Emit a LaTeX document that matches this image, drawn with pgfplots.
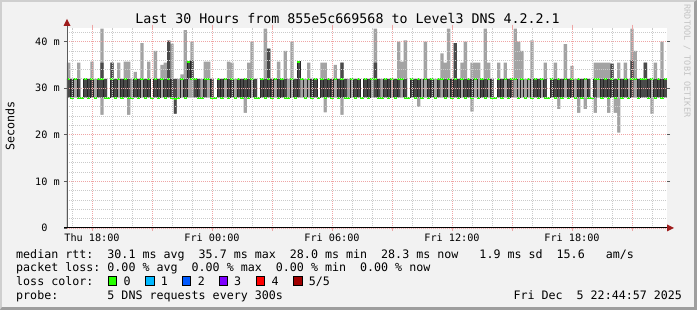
\documentclass[border=0pt]{standalone}
\usepackage{fontspec}
\setmainfont{DejaVu Sans Mono}
\usepackage{pgfplots}
\pgfplotsset{compat=1.18}
\usepackage{pgfplotstable}
\definecolor{bgc}{HTML}{F2F2F2}
\definecolor{shadeA}{HTML}{CFCFCF}
\definecolor{shadeB}{HTML}{9E9E9E}
\definecolor{mingrid}{HTML}{CACACA}
\definecolor{majgrid}{HTML}{EFA5A5}
\definecolor{smokeL}{HTML}{A3A3A3}
\definecolor{smokeD}{HTML}{4A4A4A}
\definecolor{arrowred}{HTML}{9E1B1B}
\definecolor{yaxisc}{HTML}{5A5A5A}
\definecolor{wm}{HTML}{C4C4C4}
\definecolor{loss0}{HTML}{26FF00}
\definecolor{loss1}{HTML}{00B8FF}
\definecolor{loss2}{HTML}{0059FF}
\definecolor{loss3}{HTML}{7E00FF}
\definecolor{loss4}{HTML}{FF0000}
\definecolor{loss5}{HTML}{A00000}
\newcommand\lfont{\fontsize{11.66}{14}\selectfont}
\newcommand\tfont{\fontsize{10.2}{12}\selectfont}

\pgfplotstableread{
a b c e m
28 28 32 35.5 32
28 28 32 32 28
28 32 32 32 32
28 28 32 35.5 28
28 28 28 28 28
28 28 32 32 32
28 28 32 32 28
28 28 32 35.7 32
28 28 28 32 28
28 28 32 32 32
24.3 28 35.5 42.8 32
28 28 32 32 28
28 28 28 28 28
28 28 35.5 35.5 32
28 28 32 32 28
28 32 32 35.5 32
28 28 32 32 28
28 28 32 35.7 32
24.3 28 32 35.7 28
28 28 28 32 28
28 28 32 33.5 32
28 28 32 32 28
28 32 32 39.7 32
28 28 32 32 28
28 28 32 35.7 32
28 28 28 28 28
28 28 32 38 32
28 28 32 32 28
28 32 32 35 32
28 28 32 35.5 28
28 28 40.2 40.2 32
28 28 32 39.6 28
24.5 24.5 32 32 27.8
28 28 28 32 28
28 32 32 33 32
28 28 32 42.5 28
28 32 35.7 35.7 35.7
28 32 36 40 32
28 28 32 32 32
28 28 32 32 28
28 28 28 32 28
28 28 32 35.7 32
28 32 32 35.7 32
28 28 32 32 28
28 28 28 28 28
28 28 32 32 32
28 28 32 32 28
28 32 32 32 32
28 28 32 35.7 28
28 28 32 35.5 32
28 28 28 32 28
28 28 32 32 32
28 28 32 32 28
24.7 28 32 32 32
28 28 32 35.5 28
28 32 32 40 32
28 28 32 32 28
28 28 28 28 28
28 28 32 32 32
28 28 32 42.8 28
28 28 38.5 38.5 32
28 28 32 32 28
28 32 32 32 32
28 28 32 35.7 28
28 28 32 32 32
28 28 32 38 28
28 28 28 32 28
28 32 32 40 32
28 28 32 32 28
28 28 35.7 35.7 35.7
28 32 32 32 32
28 28 28 32 28
28 32 32 35.5 32
28 28 32 32 28
28 28 32 32 32
28 28 28 28 28
28 28 32 35.5 32
24.8 28 32 35.5 28
28 28 32 32 32
28 28 32 32 28
28 32 32 35 32
28 28 32 32 28
24.3 28 35.5 35.5 32
28 28 32 32 28
28 28 28 32 28
28 32 32 32 32
28 28 32 32 28
28 28 32 32 32
28 28 28 28 28
28 28 32 32 32
28 28 32 32 28
28 32 32 32 32
28 28 35.5 42.8 32
28 28 32 32 28
28 28 28 32 28
28 28 32 32 32
28 28 32 32 28
28 32 32 32 32
28 28 32 32 28
28 28 32 40 32
28 32 32 35.7 32
28 28 32 40.3 28
28 28 28 28 28
28 28 32 32 32
28 28 32 32 28
26 28 32 32 32
28 28 28 32 28
28 32 32 40 32
28 28 32 32 28
28 28 32 32 32
28 28 28 32 28
28 28 32 32 32
28 32 32 37.5 32
28 28 32 35.5 28
28 32 32 42.8 32
28 28 32 32 28
28 28 39.7 39.7 32
28 28 32 32 28
28 32 32 35.5 32
28 28 32 40 28
28 28 32 32 32
25 28 32 35.5 28
28 32 32 35.5 32
28 28 28 35.5 28
28 28 32 32 32
28 28 32 42.8 28
28 32 32 35.5 32
28 28 32 32 28
28 28 28 28 28
28 28 32 35.5 32
28 28 32 32 28
28 32 32 35.5 32
28 28 32 32 28
28 28 32 32 32
28 32 32 42.8 32
28 28 28 40 28
28 32 32 38 32
28 28 28 32 28
28 32 32 32 32
28 28 28 40.3 28
28 28 32 32 32
28 28 32 32 28
28 32 32 32 32
28 28 32 35.5 28
28 28 28 28 28
28 28 32 32 32
28 28 32 35.5 28
25.5 28 32 32 32
28 28 32 32 28
28 32 32 39.5 32
28 28 32 32 28
28 28 32 34.8 32
28 28 28 32 28
24.7 28 32 32 32
28 28 32 32 28
25.5 32 32 32 32
28 28 32 32 28
28 28 28 28 28
24.7 28 32 35.5 32
28 32 32 35.5 32
28 28 32 35.5 28
28 28 32 35.5 32
24.7 28 32 35.5 28
28 28 35.3 35.3 32
24.7 28 32 32 28
20.5 32 32 35.5 32
28 28 32 32 28
28 28 32 35.5 32
28 28 28 32 28
28 28 36 42.8 32
28 32 32 38 32
28 28 32 32 28
28 28 32 32 32
28 28 35.5 35.5 32
28 28 32 32 28
24.5 32 32 32 32
28 28 32 35.5 28
28 28 32 32 32
28 28 32 40 28
28 28 32 32 32
28 28 32 32 32
}\smoke

\begin{document}
\begin{tikzpicture}[x=1pt,y=1pt]
% frame
\fill[shadeA] (0,0) rectangle (697,310);
\fill[shadeB] (0,0) -- (697,0) -- (697,310) -- (694,308) -- (694,3) -- (2,3) -- cycle;
\fill[bgc] (2,3) rectangle (694,308);

\begin{axis}[
  at={(67pt,82pt)}, anchor=south west,
  width=600pt, height=200.3pt, scale only axis,
  xmin=16.75, xmax=46.75, ymin=0, ymax=43,
  axis on top,
  axis background/.style={fill=white},
  axis line style={draw=none},
  xtick={18,21,...,45},
  xticklabels={Thu 18:00,,Fri 00:00,,Fri 06:00,,Fri 12:00,,Fri 18:00,},
  minor xtick={17,19,20,22,23,25,26,28,29,31,32,34,35,37,38,40,41,43,44,46},
  ytick={0,10,20,30,40},
  yticklabels={0\phantom{~m},10~m,20~m,30~m,40~m},
  minor ytick={2,4,6,8,12,14,16,18,22,24,26,28,32,34,36,38,42},
  grid=both,
  major grid style={draw=majgrid, line width=0.9pt, dash pattern=on 1pt off 1pt},
  minor grid style={draw=mingrid, line width=0.9pt, dash pattern=on 1pt off 1pt},
  tick align=outside,
  major tick length=3pt, minor tick length=0pt,
  xtick style={draw=majgrid, line width=0.9pt},
  ytick style={draw=yaxisc, line width=0.9pt},
  xticklabel style={font=\tfont, inner sep=0pt, anchor=north},
  yticklabel style={font=\tfont, inner sep=0pt, anchor=east},
  xticklabel shift=3pt,
  yticklabel shift=4pt,
  clip=true,
]
\addplot[const plot, fill=smokeL, draw=none] table[x expr=16.75+\coordindex/6, y=e]{\smoke} \closedcycle;
\addplot[const plot, fill=smokeD, draw=none] table[x expr=16.75+\coordindex/6, y=c]{\smoke} \closedcycle;
\addplot[const plot, fill=smokeL, draw=none] table[x expr=16.75+\coordindex/6, y=b]{\smoke} \closedcycle;
\addplot[const plot, fill=white, draw=none] table[x expr=16.75+\coordindex/6, y=a]{\smoke} \closedcycle;
\addplot[const plot, draw=black!85, line width=0.6pt] table[x expr=16.75+\coordindex/6, y=m]{\smoke};
\addplot[jump mark left, draw=loss0, line width=2pt] table[x expr=16.75+\coordindex/6, y=m]{\smoke};
\end{axis}

% axes
\draw[yaxisc, line width=1pt] (67,82) -- (67,285);
\fill[arrowred] (63.5,284) -- (70.5,284) -- (67,291) -- cycle;
\draw[black, line width=1pt] (64,82) -- (668,82);
\fill[arrowred] (667,78.5) -- (667,85.5) -- (674,82) -- cycle;

% title and labels
\node[anchor=base, inner sep=0pt, font=\fontsize{13.3}{16}\selectfont] at (347.5,286) {Last 30 Hours from 855e5c669568 to Level3 DNS 4.2.2.1};
\node[rotate=90, inner sep=0pt, font=\lfont] at (10,184) {Seconds};
\node[rotate=-90, inner sep=0pt, anchor=north, font=\fontsize{8.5}{10}\selectfont, text=wm] at (691,249) {RRDTOOL / TOBI OETIKER};

% legend
\node[anchor=base west, inner sep=0pt, font=\lfont] at (16,51.5) {median~rtt:~~30.1~ms~avg~~35.7~ms~max~~28.0~ms~min~~28.3~ms~now~~~1.9~ms~sd~~15.6~~~am/s};
\node[anchor=base west, inner sep=0pt, font=\lfont] at (16,38) {packet~loss:~0.00~\%~avg~~0.00~\%~max~~0.00~\%~min~~0.00~\%~now};
\node[anchor=base west, inner sep=0pt, font=\lfont] at (16,24.3) {loss~color:};
\foreach \bx/\lx/\col/\lab in {108.3/123.3/loss0/0, 145.7/160.7/loss1/1, 182.3/197.7/loss2/2, 219.3/234/loss3/3, 256/271.3/loss4/4, 293.7/308.7/loss5/5\slash 5}{
  \filldraw[fill=\col, draw=black, line width=0.8pt] (\bx,24.3) rectangle ++(8.5,9);
  \node[anchor=base west, inner sep=0pt, font=\lfont] at (\lx,24.3) {\lab};
}
\node[anchor=base west, inner sep=0pt, font=\lfont] at (16,10.7) {probe:~~~~~~~5~DNS~requests~every~300s};
\node[anchor=base west, inner sep=0pt, font=\lfont] at (513.3,10.7) {Fri~Dec~~5~22:44:57~2025};
\end{tikzpicture}
\end{document}
